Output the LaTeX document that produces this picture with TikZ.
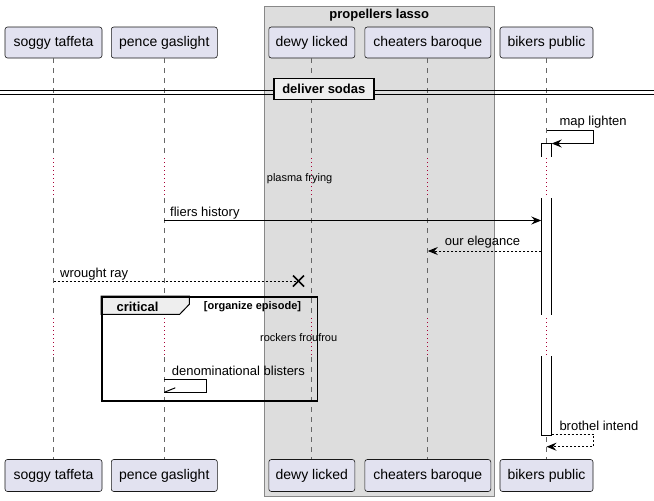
\documentclass[tikz,border=0pt]{standalone}
\usepackage{fontspec}
\setmainfont{Liberation Sans}
\usetikzlibrary{arrows.meta}
\definecolor{partfill}{HTML}{E2E2F0}
\definecolor{partline}{HTML}{181818}
\definecolor{grpfill}{HTML}{DDDDDD}
\definecolor{grpline}{HTML}{888888}
\definecolor{delayc}{HTML}{A80036}
\definecolor{lifec}{HTML}{666666}
\definecolor{tabfill}{HTML}{EEEEEE}
\begin{document}
\begin{tikzpicture}[x=1pt,y=-1pt,
 part/.style={draw=partline, fill=partfill, rounded corners=2.5pt, minimum height=31pt, inner sep=0pt, font=\fontsize{14}{16}\selectfont, line width=0.6pt},
 life/.style={draw=lifec, dash pattern=on 5pt off 5pt, line width=0.7pt},
 delayline/.style={draw=delayc, dash pattern=on 1pt off 3pt, line width=1pt},
 msg/.style={draw=black, line width=1pt, -{Stealth[length=10pt,width=8pt,inset=3.5pt]}},
 ret/.style={msg, dash pattern=on 2pt off 2pt},
 lbl/.style={anchor=west, inner sep=0pt, font=\fontsize{13}{15}\selectfont},
 smalllbl/.style={anchor=west, inner sep=0pt, font=\fontsize{11}{13}\selectfont},
 boldlbl/.style={inner sep=0pt, font=\bfseries\fontsize{13}{15}\selectfont},
 actline/.style={draw=black, line width=1pt},
 ]
\path[use as bounding box, fill=white] (0,0) rectangle (654,501);

% group
\node[draw=grpline, fill=grpfill, line width=0.8pt, minimum width=230pt, minimum height=490pt, inner sep=0pt, anchor=north west] (grp) at (264.3,6) {};
\node[boldlbl] (grpt) at (379.3,15) {propellers lasso};

% participants
\node[part, minimum width=97pt] (tA) at (53.5,42.5) {soggy taffeta};
\node[part, minimum width=106pt] (tB) at (164.3,42.5) {pence gaslight};
\node[part, minimum width=86pt] (tC) at (311.8,42.5) {dewy licked};
\node[part, minimum width=126pt] (tD) at (427.8,42.5) {cheaters baroque};
\node[part, minimum width=93pt] (tE) at (546.5,42.5) {bikers public};
\node[part, minimum width=97pt, minimum height=32pt] (bA) at (53.5,475.5) {soggy taffeta};
\node[part, minimum width=106pt, minimum height=32pt] (bB) at (164.3,475.5) {pence gaslight};
\node[part, minimum width=86pt, minimum height=32pt] (bC) at (311.8,475.5) {dewy licked};
\node[part, minimum width=126pt, minimum height=32pt] (bD) at (427.8,475.5) {cheaters baroque};
\node[part, minimum width=93pt, minimum height=32pt] (bE) at (546.5,475.5) {bikers public};

% lifelines
\foreach \p in {A,B,C,D,E}{
  \draw[life] (t\p.south) -- (t\p |- 0,156);
  \draw[delayline] (t\p |- 0,158) -- (t\p |- 0,197);
  \draw[life] (t\p |- 0,198) -- (t\p |- 0,316);
  \draw[delayline] (t\p |- 0,318) -- (t\p |- 0,356);
  \draw[life] (t\p |- 0,357) -- (b\p.north);
}

% separator
\draw[line width=1pt] (0,90) -- (654,90);
\draw[line width=1pt] (0,94) -- (654,94);
\node[draw, line width=1.8pt, fill=tabfill, minimum width=100pt, minimum height=21pt, inner sep=0pt, font=\bfseries\fontsize{13}{15}\selectfont] (sep) at (323.8,89) {deliver sodas};

% activation on bikers public
\fill[white] (541.3,143.5) rectangle (551.7,156.5);
\draw[actline] (541.3,156.5) -- (541.3,143.5) -- (551.7,143.5) -- (551.7,156.5);
\fill[white] (541.3,198.3) rectangle (551.7,314.5);
\draw[actline] (541.3,198.3) -- (541.3,314.5);
\draw[actline] (551.7,198.3) -- (551.7,314.5);
\fill[white] (541.3,356) rectangle (551.7,435.3);
\draw[actline] (541.3,356) -- (541.3,435.3) -- (551.7,435.3) -- (551.7,356);

% delay labels
\node[smalllbl] (d1) at (266.7,179) {plasma frying};
\node[smalllbl] (d2) at (260,337.5) {rockers froufrou};

% map lighten (self)
\coordinate (m1a) at (tE |- 0,130.3);
\coordinate (m1b) at (551.7,143.5);
\draw[msg] (m1a) -- ++(47,0) |- (m1b);
\node[lbl] (l1) at (559.3,122.5) {map lighten};

% fliers history
\coordinate (m2a) at (tB |- 0,220.5);
\coordinate (m2b) at (541.3,220.5);
\draw[msg] (m2a) -- (m2b);
\node[lbl] (l2) at (170,213) {fliers history};

% our elegance
\coordinate (m3a) at (541.3,251);
\coordinate (m3b) at (tD |- 0,251);
\draw[ret] (m3a) -- (m3b);
\node[lbl] (l3) at (444.7,242.5) {our elegance};

% wrought ray (destroy)
\coordinate (m4a) at (tA |- 0,281);
\coordinate (m4b) at (298.5,281);
\draw[line width=1pt, dash pattern=on 2pt off 2pt] (m4a) -- (m4b);
\draw[line width=1.5pt] ([shift={(-5.5,-5.5)}]m4b) -- ([shift={(5.5,5.5)}]m4b);
\draw[line width=1.5pt] ([shift={(5.5,-5.5)}]m4b) -- ([shift={(-5.5,5.5)}]m4b);
\node[lbl] (l4) at (60,274) {wrought ray};

% critical frame
\draw[line width=1pt, fill=tabfill] (101,296) -- (189.3,296) -- (189.3,304.3) -- (179.7,314.3) -- (101,314.3) -- cycle;
\node[draw, line width=1.6pt, minimum width=215.7pt, minimum height=104pt, inner sep=0pt, anchor=north west] (crit) at (101,296) {};
\node[boldlbl] (critl) at (137.5,306.5) {critical};
\node[anchor=west, inner sep=0pt, font=\bfseries\fontsize{11}{13}\selectfont] (critg) at (203.7,306.3) {[organize episode]};

% denominational blisters (self)
\coordinate (m5a) at (tB |- 0,379.3);
\coordinate (m5b) at (tB |- 0,392.3);
\draw[line width=1pt] (m5a) -- ++(42,0) |- (m5b);
\draw[line width=1pt] (m5b) -- ++(11,-4.5);
\node[lbl] (l5) at (171.7,370.5) {denominational blisters};

% brothel intend (self return)
\coordinate (m6a) at (551.7,434.3);
\coordinate (m6b) at (tE |- 0,446.7);
\draw[ret] (m6a) -- ++(42,0) |- (m6b);
\node[lbl] (l6) at (559.3,426.3) {brothel intend};
\end{tikzpicture}
\end{document}
